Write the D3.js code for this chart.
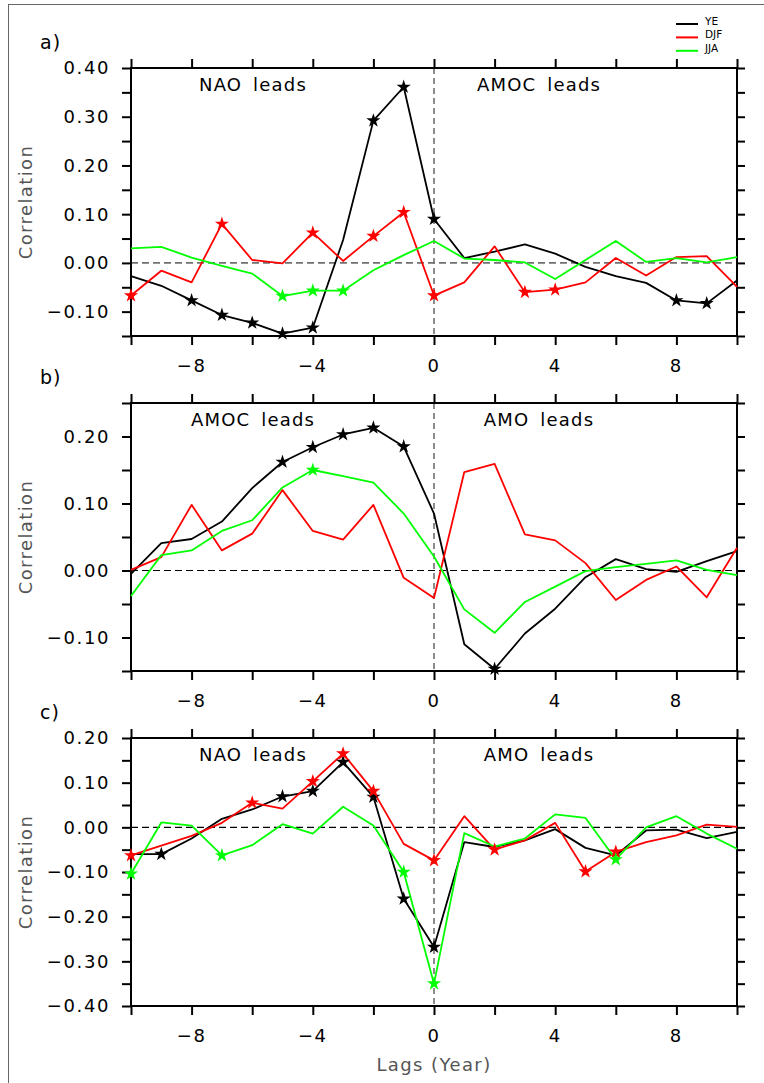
<!DOCTYPE html>
<html>
<head>
  <meta charset="utf-8">
  <script src="https://cdn.jsdelivr.net/npm/d3@7"></script>
  <style>
    body { margin: 0; background: #fff; }
    text { font-family: "DejaVu Sans", sans-serif; }
    .series { fill: none; stroke-width: 1.8; stroke-linejoin: round; }
  </style>
</head>
<body>
<script>
// lags -10..10
var lags = d3.range(-10, 11);

// panel a) NAO vs AMOC
var aYE  = [-0.027,-0.047,-0.077,-0.107,-0.123,-0.145,-0.133,0.047,0.292,0.361,0.090,0.010,0.023,0.038,0.019,-0.008,-0.027,-0.041,-0.077,-0.083,-0.036];
var aDJF = [-0.067,-0.016,-0.040,0.080,0.006,-0.001,0.062,0.004,0.055,0.104,-0.067,-0.040,0.034,-0.060,-0.055,-0.040,0.010,-0.026,0.012,0.014,-0.049];
var aJJA = [0.030,0.033,0.011,-0.006,-0.022,-0.068,-0.057,-0.057,-0.015,0.016,0.045,0.009,0.006,0.001,-0.033,0.006,0.045,0.002,0.010,0.001,0.012];
var aYEsig  = [-8,-7,-6,-5,-4,-2,-1,0,8,9];
var aDJFsig = [-10,-7,-4,-2,-1,0,3,4];
var aJJAsig = [-5,-4,-3];

// panel b) AMOC vs AMO
var bYE  = [-0.005,0.041,0.047,0.073,0.123,0.162,0.184,0.203,0.213,0.185,0.085,-0.110,-0.147,-0.094,-0.057,-0.010,0.017,0.002,-0.002,0.014,0.029];
var bDJF = [0.001,0.020,0.098,0.030,0.055,0.120,0.059,0.046,0.098,-0.011,-0.041,0.147,0.159,0.054,0.045,0.011,-0.044,-0.014,0.006,-0.040,0.034];
var bJJA = [-0.038,0.023,0.030,0.059,0.075,0.124,0.150,0.141,0.131,0.085,0.021,-0.058,-0.093,-0.047,-0.024,-0.001,0.005,0.010,0.015,0.001,-0.007];
var bYEsig  = [-5,-4,-3,-2,-1,2];
var bDJFsig = [];
var bJJAsig = [-4];

// panel c) NAO vs AMO
var cYE  = [-0.060,-0.060,-0.025,0.019,0.040,0.069,0.081,0.146,0.068,-0.160,-0.268,-0.033,-0.044,-0.029,-0.004,-0.046,-0.063,-0.007,-0.005,-0.024,-0.010];
var cDJF = [-0.063,-0.041,-0.019,0.010,0.055,0.042,0.103,0.165,0.081,-0.037,-0.074,0.025,-0.050,-0.029,0.010,-0.099,-0.055,-0.033,-0.018,0.006,0.001];
var cJJA = [-0.104,0.011,0.004,-0.063,-0.040,0.007,-0.014,0.046,0.004,-0.100,-0.350,-0.013,-0.043,-0.025,0.029,0.021,-0.072,0.000,0.025,-0.014,-0.048];
var cYEsig  = [-9,-5,-4,-3,-2,-1,0];
var cDJFsig = [-10,-6,-4,-3,-2,0,2,5,6];
var cJJAsig = [-10,-7,-1,0,6];

var seasons = ["YE", "DJF", "JJA"];
var colors = ["#000000", "#ff0000", "#00ff00"];

var panels = [
  { label: "a)", top: 68, bottom: 336, dom: [-0.15, 0.40], major: [-0.10, 0.00, 0.10, 0.20, 0.30, 0.40],
    left: "NAO leads", right: "AMOC leads", zeroColor: "#707070",
    series: [aYE, aDJF, aJJA], sig: [aYEsig, aDJFsig, aJJAsig] },
  { label: "b)", top: 403, bottom: 671, dom: [-0.15, 0.25], major: [-0.10, 0.00, 0.10, 0.20],
    left: "AMOC leads", right: "AMO leads", zeroColor: "#000000",
    series: [bYE, bDJF, bJJA], sig: [bYEsig, bDJFsig, bJJAsig] },
  { label: "c)", top: 738, bottom: 1006, dom: [-0.40, 0.20], major: [-0.40, -0.30, -0.20, -0.10, 0.00, 0.10, 0.20],
    left: "NAO leads", right: "AMO leads", zeroColor: "#000000",
    series: [cYE, cDJF, cJJA], sig: [cYEsig, cDJFsig, cJJAsig] }
];

var W = 764, H = 1083;
var plotLeft = 131, plotRight = 737;

var svg = d3.select("body").append("svg")
  .attr("width", W).attr("height", H);

// page frame
svg.append("rect")
  .attr("x", 8.5).attr("y", 4.5)
  .attr("width", W).attr("height", H)
  .attr("fill", "none").attr("stroke", "#666").attr("stroke-width", 1);

var x = d3.scaleLinear().domain([-10, 10]).range([plotLeft, plotRight]);
var fmt = d3.format(".2f");
var star = d3.symbol().type(d3.symbolStar).size(62);

panels.forEach(function (p) {
  var y = d3.scaleLinear().domain(p.dom).range([p.bottom, p.top]);
  var g = svg.append("g");

  // minor y ticks every 0.05
  var yTicks = d3.range(Math.round(p.dom[0] * 20), Math.round(p.dom[1] * 20) + 1).map(function (k) { return k / 20; });

  // zero line
  g.append("line")
    .attr("x1", plotLeft).attr("x2", plotRight)
    .attr("y1", y(0)).attr("y2", y(0))
    .attr("stroke", p.zeroColor).attr("stroke-width", p.zeroColor == "#000000" ? 1.1 : 1.6)
    .attr("stroke-dasharray", "7,4");

  // lag 0 line
  g.append("line")
    .attr("x1", x(0)).attr("x2", x(0))
    .attr("y1", p.top).attr("y2", p.bottom)
    .attr("stroke", "#707070").attr("stroke-width", 1.6)
    .attr("stroke-dasharray", "6,4");

  // axes (outward ticks)
  g.append("g").attr("transform", "translate(0," + p.bottom + ")")
    .call(d3.axisBottom(x).tickValues(d3.range(-10, 11, 2)).tickSize(9).tickFormat(""));
  g.append("g").attr("transform", "translate(0," + p.top + ")")
    .call(d3.axisTop(x).tickValues(d3.range(-10, 11, 2)).tickSize(9).tickFormat(""));
  g.append("g").attr("transform", "translate(" + plotLeft + ",0)")
    .call(d3.axisLeft(y).tickValues(yTicks).tickSize(9).tickFormat(""));
  g.append("g").attr("transform", "translate(" + plotRight + ",0)")
    .call(d3.axisRight(y).tickValues(yTicks).tickSize(8).tickFormat(""));
  g.selectAll(".domain").remove();
  g.selectAll(".tick line").attr("stroke", "#000").attr("stroke-width", 2);

  g.append("rect")
    .attr("x", plotLeft).attr("y", p.top)
    .attr("width", plotRight - plotLeft).attr("height", p.bottom - p.top)
    .attr("fill", "none").attr("stroke", "#000").attr("stroke-width", 2);

  // y tick labels
  g.selectAll(".ylab").data(p.major).enter().append("text")
    .attr("x", 110).attr("y", function (d) { return y(d); })
    .attr("dy", "0.36em")
    .attr("text-anchor", "end")
    .attr("font-size", 18).attr("letter-spacing", 1.6)
    .text(function (d) { return fmt(d); });

  // x tick labels
  g.selectAll(".xlab").data([-8, -4, 0, 4, 8]).enter().append("text")
    .attr("x", function (d) { return x(d); }).attr("y", p.bottom + 30)
    .attr("dy", "0.36em")
    .attr("text-anchor", "middle")
    .attr("font-size", 18).attr("letter-spacing", 1.6)
    .text(function (d) { return d3.format("d")(d); });

  // panel label
  g.append("text").attr("x", 40).attr("y", p.top - 26).attr("dy", "0.36em")
    .attr("font-size", 19).attr("letter-spacing", 1).text(p.label);

  // y axis title
  g.append("text")
    .attr("transform", "translate(26," + (p.top + p.bottom) / 2 + ") rotate(-90)")
    .attr("dy", "0.36em").attr("text-anchor", "middle")
    .attr("font-size", 18).attr("letter-spacing", 1.4).attr("fill", "#555")
    .text("Correlation");

  // lead annotations
  g.append("text").attr("x", 253).attr("y", p.top + 17).attr("dy", "0.36em")
    .attr("text-anchor", "middle").attr("font-size", 18).attr("letter-spacing", 1.2)
    .attr("word-spacing", 4).text(p.left);
  g.append("text").attr("x", 539).attr("y", p.top + 17).attr("dy", "0.36em")
    .attr("text-anchor", "middle").attr("font-size", 18).attr("letter-spacing", 1.2)
    .attr("word-spacing", 4).text(p.right);

  // series
  var line = d3.line().x(function (d, i) { return x(lags[i]); }).y(function (d) { return y(d); });
  p.series.forEach(function (s, k) {
    g.append("path").datum(s).attr("class", "series")
      .attr("stroke", colors[k]).attr("d", line);
  });
  p.series.forEach(function (s, k) {
    g.selectAll(".star" + k).data(p.sig[k]).enter().append("path")
      .attr("d", star)
      .attr("fill", colors[k])
      .attr("transform", function (L) { return "translate(" + x(L) + "," + y(s[L + 10]) + ")"; });
  });
});

// legend
var leg = svg.append("g");
seasons.forEach(function (s, i) {
  var yy = 24 + i * 13.4;
  leg.append("line").attr("x1", 676).attr("x2", 698).attr("y1", yy).attr("y2", yy)
    .attr("stroke", colors[i]).attr("stroke-width", 2);
  leg.append("text").attr("x", 705).attr("y", yy - 3).attr("dy", "0.36em")
    .attr("font-size", 10.5).text(s);
});

// x axis title
svg.append("text").attr("x", 434).attr("y", 1065).attr("dy", "0.36em")
  .attr("text-anchor", "middle").attr("font-size", 18).attr("letter-spacing", 1.4)
  .attr("fill", "#555").text("Lags (Year)");
</script>
</body>
</html>
